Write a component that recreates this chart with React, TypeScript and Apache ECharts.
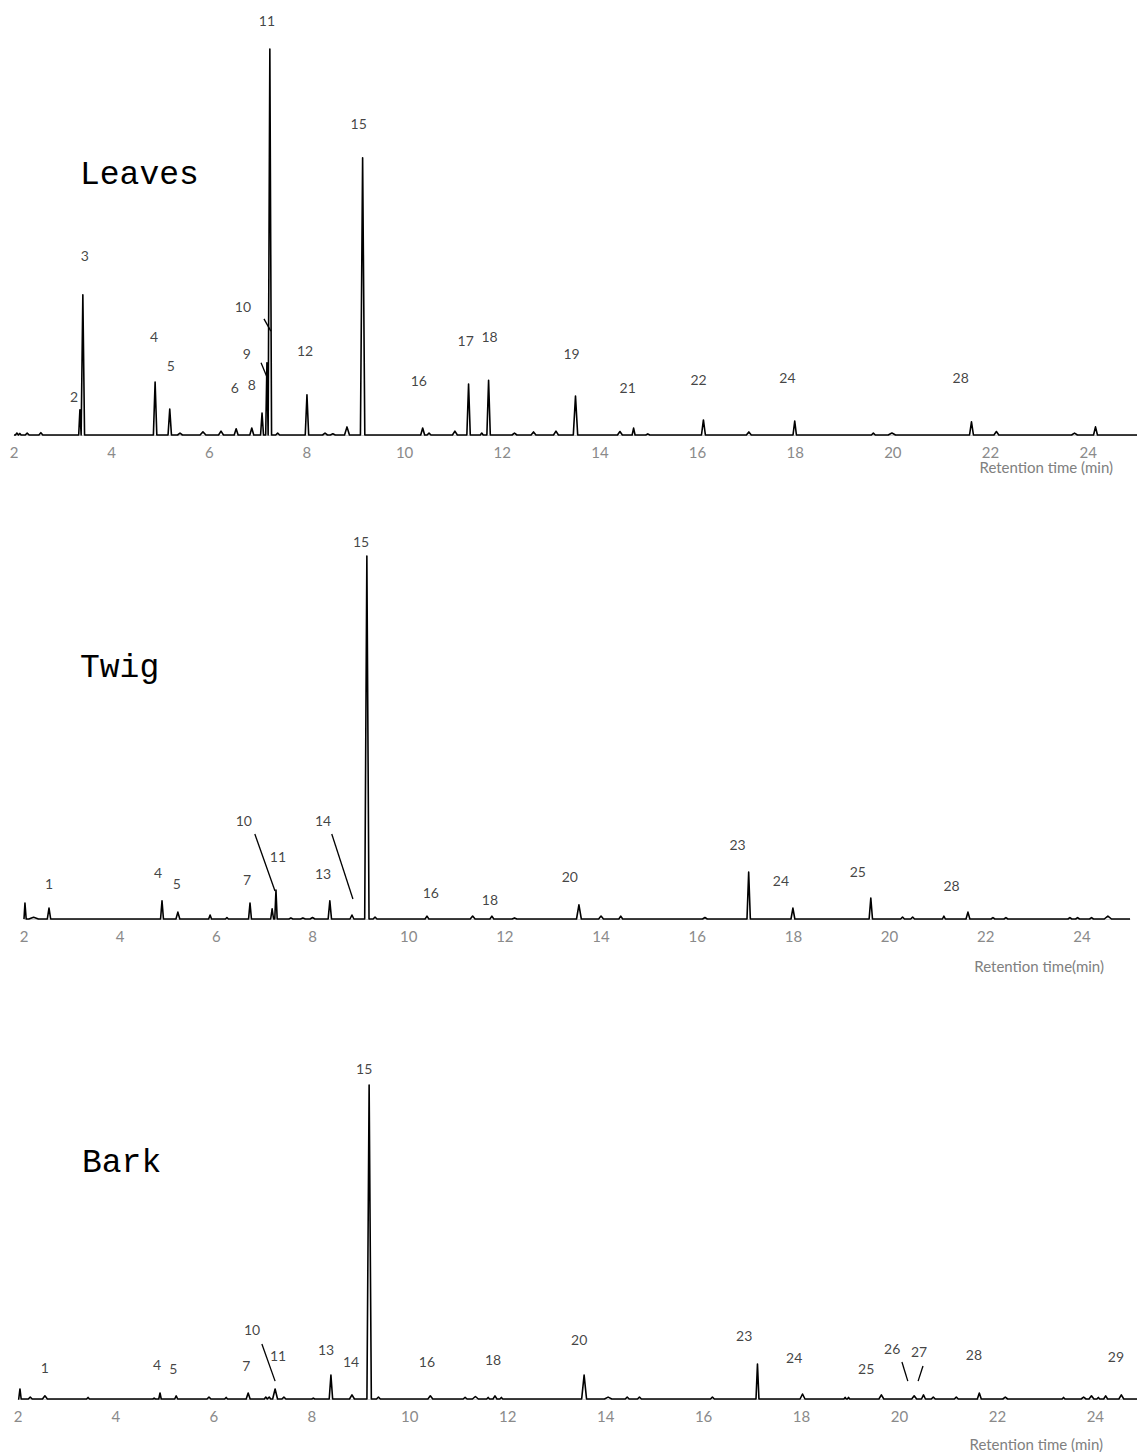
import React, { useEffect, useRef } from "react";
import * as echarts from "echarts";

// ---------- data (time in min, relative intensity % of tallest peak in the panel) ----------
const tickValues = [2, 4, 6, 8, 10, 12, 14, 16, 18, 20, 22, 24];

// [retention time, relative intensity, base width (min)]
const leavesPeaks: number[][] = [
  [2.06, 0.5, 0.06], [2.12, 0.4, 0.05], [2.27, 0.5, 0.08], [2.55, 0.6, 0.08],
  [3.35, 6.5, 0.05], [3.41, 36.3, 0.07],
  [4.89, 13.7, 0.07], [5.19, 6.7, 0.07], [5.4, 0.5, 0.1], [5.87, 0.8, 0.12],
  [6.24, 1.0, 0.1], [6.55, 1.6, 0.08], [6.87, 1.8, 0.08],
  [7.08, 5.7, 0.06], [7.18, 18.7, 0.05], [7.24, 100, 0.07],
  [7.4, 0.5, 0.08], [8.0, 10.4, 0.07], [8.37, 0.5, 0.1], [8.53, 0.3, 0.1], [8.82, 2.1, 0.1],
  [9.14, 71.8, 0.09],
  [10.37, 1.8, 0.08], [10.5, 0.5, 0.08], [11.03, 1.0, 0.1], [11.31, 13.2, 0.07], [11.58, 0.5, 0.06],
  [11.72, 14.2, 0.07], [12.25, 0.5, 0.1], [12.64, 0.8, 0.1], [13.1, 1.0, 0.1], [13.5, 10.1, 0.09],
  [14.41, 0.9, 0.1], [14.69, 1.8, 0.06], [14.98, 0.3, 0.08], [16.12, 3.9, 0.08], [17.05, 0.8, 0.1],
  [17.99, 3.6, 0.07], [19.6, 0.5, 0.08], [19.98, 0.5, 0.15], [21.61, 3.4, 0.08], [22.12, 0.9, 0.1],
  [23.72, 0.5, 0.12], [24.15, 2.1, 0.08],
];

const twigPeaks: number[][] = [
  [2.02, 4.4, 0.05], [2.2, 0.5, 0.2], [2.52, 3.0, 0.07], [4.87, 5.0, 0.06], [5.2, 1.9, 0.08],
  [5.87, 1.1, 0.06], [6.22, 0.4, 0.06], [6.7, 4.4, 0.06], [7.16, 2.8, 0.06], [7.24, 8.0, 0.05],
  [7.55, 0.3, 0.08], [7.8, 0.3, 0.1], [8.0, 0.4, 0.1], [8.36, 5.0, 0.07], [8.82, 1.1, 0.08],
  [9.13, 100, 0.09], [9.3, 0.5, 0.08], [10.38, 0.8, 0.08], [11.33, 0.8, 0.1], [11.73, 0.8, 0.08],
  [12.2, 0.3, 0.1], [13.54, 3.9, 0.1], [14.0, 0.8, 0.1], [14.41, 0.8, 0.08], [16.16, 0.4, 0.1],
  [17.07, 12.9, 0.07], [17.99, 3.0, 0.08], [19.61, 5.8, 0.07], [20.27, 0.5, 0.08], [20.48, 0.5, 0.08],
  [21.13, 0.8, 0.06], [21.63, 1.9, 0.08], [22.15, 0.4, 0.08], [22.42, 0.4, 0.08], [23.75, 0.4, 0.08],
  [23.91, 0.4, 0.08], [24.2, 0.4, 0.08], [24.54, 0.8, 0.15],
];

const barkPeaks: number[][] = [
  [2.04, 3.2, 0.05], [2.25, 0.6, 0.08], [2.55, 1.0, 0.1], [3.43, 0.5, 0.06], [4.78, 0.3, 0.05],
  [4.9, 1.9, 0.05], [5.23, 1.0, 0.06], [5.9, 0.6, 0.08], [6.25, 0.5, 0.06], [6.7, 1.9, 0.08],
  [7.06, 0.6, 0.06], [7.13, 0.6, 0.06], [7.25, 3.2, 0.1], [7.43, 0.6, 0.08], [8.03, 0.3, 0.06],
  [8.39, 7.6, 0.07], [8.82, 1.3, 0.1], [9.17, 100, 0.09], [9.36, 0.6, 0.08], [10.42, 1.0, 0.1],
  [11.13, 0.5, 0.08], [11.34, 0.8, 0.12], [11.6, 0.5, 0.06], [11.74, 1.0, 0.08], [11.87, 0.5, 0.06],
  [13.56, 7.6, 0.1], [14.05, 0.6, 0.15], [14.44, 0.6, 0.08], [14.69, 0.6, 0.08], [16.18, 0.6, 0.08],
  [17.1, 11.1, 0.06], [18.02, 1.6, 0.1], [18.89, 0.5, 0.05], [18.96, 0.5, 0.05], [19.63, 1.3, 0.1],
  [20.3, 1.0, 0.1], [20.49, 1.3, 0.08], [20.69, 0.6, 0.08], [21.16, 0.6, 0.08], [21.63, 1.9, 0.08],
  [22.16, 0.6, 0.1], [23.35, 0.5, 0.06], [23.76, 0.6, 0.1], [23.92, 1.0, 0.1], [24.06, 0.5, 0.06],
  [24.21, 1.0, 0.08], [24.53, 1.3, 0.1],
];

// peak numbers: [label, time, intensity]
const leavesLabels: [string, number, number][] = [
  ["2", 3.23, 10.1], ["3", 3.45, 46.4], ["4", 4.87, 25.4], ["5", 5.21, 17.9],
  ["6", 6.52, 12.4], ["8", 6.87, 13.0], ["9", 6.77, 21.2], ["10", 6.69, 33.2],
  ["11", 7.18, 107.3], ["12", 7.96, 21.8], ["15", 9.06, 80.8], ["16", 10.29, 14.0],
  ["17", 11.25, 24.6], ["18", 11.74, 25.4], ["19", 13.42, 21.0], ["21", 14.57, 12.4],
  ["22", 16.02, 14.5], ["24", 17.84, 15.0], ["28", 21.39, 15.0],
];
const twigLabels: [string, number, number][] = [
  ["1", 2.52, 9.9], ["4", 4.79, 12.9], ["5", 5.18, 9.9], ["7", 6.64, 11.0],
  ["10", 6.57, 27.0], ["11", 7.28, 17.1], ["13", 8.22, 12.4], ["14", 8.22, 27.0],
  ["15", 9.01, 104.1], ["16", 10.46, 7.4], ["18", 11.69, 5.5], ["20", 13.35, 11.8],
  ["23", 16.84, 20.4], ["24", 17.74, 10.7], ["25", 19.34, 13.2], ["28", 21.29, 9.1],
];
const barkLabels: [string, number, number][] = [
  ["1", 2.55, 9.9], ["4", 4.84, 11.1], ["5", 5.17, 9.6], ["7", 6.66, 10.8],
  ["10", 6.78, 22.0], ["11", 7.31, 13.7], ["13", 8.29, 15.9], ["14", 8.8, 11.8],
  ["15", 9.07, 105.1], ["16", 10.35, 11.8], ["18", 11.7, 12.7], ["20", 13.46, 18.8],
  ["23", 16.83, 20.1], ["24", 17.85, 13.1], ["25", 19.32, 9.6], ["26", 19.85, 16.2],
  ["27", 20.4, 15.0], ["28", 21.52, 14.3], ["29", 24.42, 13.4],
];

// leader lines: [t1, v1, t2, v2]
const leavesLeaders: number[][] = [
  [7.12, 30.1, 7.26, 26.9],
  [7.06, 18.7, 7.18, 15.0],
];
const twigLeaders: number[][] = [
  [6.8, 23.4, 7.22, 7.7],
  [8.4, 23.4, 8.84, 5.5],
];
const barkLeaders: number[][] = [
  [6.98, 17.5, 7.25, 5.7],
  [20.05, 11.8, 20.17, 5.7],
  [20.48, 10.5, 20.38, 5.7],
];

const panelNames = ["Leaves", "Twig", "Bark"];
const axisNames = ["Retention time (min)", "Retention time(min)", "Retention time (min)"];
const xMaxes = [25, 25, 24.85];

// ---------- layout ----------
const layout = [
  { grid: { left: 14, top: 10.4, width: 1123.5, height: 424.6 }, title: [80, 175], axisName: [1113, 467] },
  { grid: { left: 24, top: 519.7, width: 1106, height: 399.3 }, title: [80, 668], axisName: [1104, 966] },
  { grid: { left: 18, top: 1053.6, width: 1119, height: 345.4 }, title: [82, 1163], axisName: [1103, 1444] },
];

function traceFrom(peaks: number[][], xMin: number, xMax: number) {
  const pts: number[][] = [[xMin, 0]];
  peaks.forEach(([t, h, w]) => {
    pts.push([t - w / 2, 0], [t, h], [t + w / 2, 0]);
  });
  pts.push([xMax, 0]);
  return pts;
}

const allPeaks = [leavesPeaks, twigPeaks, barkPeaks];
const allLabels = [leavesLabels, twigLabels, barkLabels];
const allLeaders = [leavesLeaders, twigLeaders, barkLeaders];

function buildOption() {
  const grid: any[] = [];
  const xAxis: any[] = [];
  const yAxis: any[] = [];
  const series: any[] = [];
  const graphic: any[] = [];
  layout.forEach((L, i) => {
    grid.push({ ...L.grid, containLabel: false });
    xAxis.push({
      type: "value",
      gridIndex: i,
      min: 2,
      max: xMaxes[i],
      interval: 2,
      axisLine: { show: true, onZero: false, lineStyle: { color: "#d0d0d0", width: 1 } },
      axisTick: { show: false },
      splitLine: { show: false },
      axisLabel: {
        customValues: tickValues,
        color: "#8a8a8a",
        fontSize: 15,
        fontFamily: "Lato",
        margin: 9,
      },
    });
    yAxis.push({ type: "value", gridIndex: i, min: 0, max: 110, show: false });
    series.push({
      type: "line",
      xAxisIndex: i,
      yAxisIndex: i,
      data: traceFrom(allPeaks[i], 2, xMaxes[i]),
      showSymbol: false,
      symbol: "none",
      clip: false,
      lineStyle: { color: "#000", width: 1.6, join: "round" },
      z: 3,
    });
    series.push({
      type: "scatter",
      xAxisIndex: i,
      yAxisIndex: i,
      symbolSize: 1,
      itemStyle: { color: "transparent" },
      data: allLabels[i].map(([n, t, v]) => ({ name: n, value: [t, v] })),
      label: {
        show: true,
        position: "inside",
        formatter: "{b}",
        color: "#111",
        fontSize: 14,
        fontFamily: "Lato",
      },
      z: 4,
    });
    series.push({
      type: "lines",
      coordinateSystem: "cartesian2d",
      xAxisIndex: i,
      yAxisIndex: i,
      data: allLeaders[i].map(([a, b, c, d]) => ({ coords: [[a, b], [c, d]] })),
      lineStyle: { color: "#000", width: 1.3, opacity: 1 },
      z: 4,
    });
    graphic.push({
      type: "text",
      x: L.title[0],
      y: L.title[1],
      style: {
        text: panelNames[i],
        fontSize: 33,
        fontFamily: "Liberation Mono",
        fill: "#000",
        align: "left",
        verticalAlign: "middle",
      },
    });
    graphic.push({
      type: "text",
      x: L.axisName[0],
      y: L.axisName[1],
      style: {
        text: axisNames[i],
        fontSize: 15,
        fontFamily: "Lato",
        fill: "#808080",
        align: "right",
        verticalAlign: "middle",
      },
    });
  });
  return {
    animation: false,
    backgroundColor: "#fff",
    grid,
    xAxis,
    yAxis,
    series,
    graphic,
  };
}

export default function App() {
  const ref = useRef<HTMLDivElement>(null);
  useEffect(() => {
    if (!ref.current) return;
    const chart = echarts.init(ref.current, null, { renderer: "svg" });
    chart.setOption(buildOption() as any);
    return () => chart.dispose();
  }, []);
  return (
    <div
      ref={ref}
      style={{ position: "absolute", left: 0, top: 0, width: 1137, height: 1452, background: "#fff" }}
    />
  );
}
